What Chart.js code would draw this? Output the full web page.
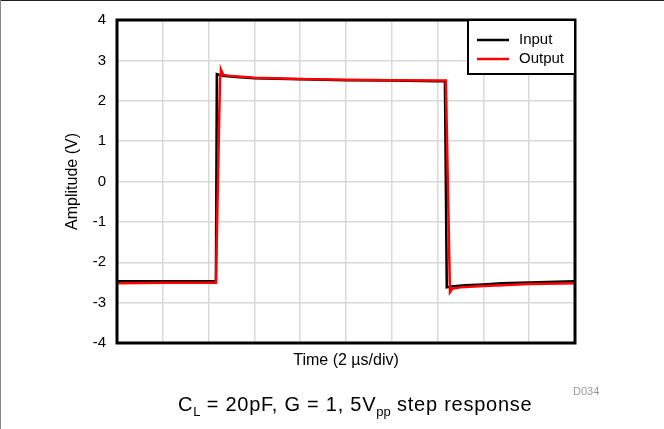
<!DOCTYPE html>
<html>
<head>
<meta charset="utf-8">
<script src="https://cdn.jsdelivr.net/npm/chart.js@4"></script>
<style>
  html, body { margin: 0; padding: 0; background: #fff; }
  #wrap { position: relative; width: 664px; height: 429px; overflow: hidden; font-family: "Liberation Sans", Arial, sans-serif; }
  #wrap canvas { position: absolute; left: 0; top: 0; }
  #topline { position: absolute; left: 0; top: 0; width: 664px; height: 1px; background: #222; }
  #leftline { position: absolute; left: 0; top: 0; width: 1px; height: 429px; background: #888; }
  #code { position: absolute; left: 573px; top: 385px; font-size: 11px; color: #9a9a9a; }
  #caption { position: absolute; left: 178px; top: 393px; font-size: 20px; color: #000; white-space: nowrap; letter-spacing: 0.75px; }
  #caption sub { font-size: 13px; vertical-align: -5px; line-height: 0; letter-spacing: 0; }
</style>
</head>
<body>
<div id="wrap">
  <canvas id="c" width="664" height="429"></canvas>
  <div id="topline"></div>
  <div id="leftline"></div>
  <div id="code">D034</div>
  <div id="caption">C<sub>L</sub> = 20pF, G = 1, 5V<sub>pp</sub> step response</div>
</div>
<script>
// Time in divisions (2 µs/div)
const inputTime  = [0, 1, 2, 2.16, 2.18, 2.3, 2.6, 3, 4, 5, 6, 7, 7.16, 7.2, 7.3, 7.6, 8, 8.4, 9, 10];
const inputVolts = [-2.47, -2.47, -2.47, -2.47, 2.66, 2.62, 2.59, 2.56, 2.53, 2.51, 2.50, 2.48, 2.48, -2.62, -2.60, -2.57, -2.55, -2.52, -2.50, -2.47];
const outputTime  = [0, 1, 2, 2.16, 2.25, 2.27, 2.32, 2.5, 3, 4, 5, 6, 7, 7.18, 7.27, 7.32, 7.5, 8, 8.4, 9, 10];
const outputVolts = [-2.52, -2.51, -2.51, -2.51, 2.62, 2.77, 2.64, 2.61, 2.57, 2.54, 2.52, 2.51, 2.50, 2.50, -2.74, -2.66, -2.62, -2.59, -2.57, -2.54, -2.52];
const seriesNames = ["Input", "Output"];
const seriesColors = ["#000000", "#ff0000"];
const yTicks = [-4, -3, -2, -1, 0, 1, 2, 3, 4];

const toPoints = (xs, ys) => xs.map((x, i) => ({ x: x, y: ys[i] }));

const frameAndLegend = {
  id: 'frameAndLegend',
  afterDraw(chart) {
    const ctx = chart.ctx;
    const a = chart.chartArea;
    ctx.save();
    ctx.strokeStyle = '#000';
    ctx.lineWidth = 3;
    ctx.strokeRect(a.left, a.top, a.right - a.left, a.bottom - a.top);
    // legend box
    const bx = a.right - 107, by = a.top, bw = 107, bh = 54;
    ctx.fillStyle = '#fff';
    ctx.fillRect(bx, by, bw, bh);
    ctx.lineWidth = 2;
    ctx.strokeRect(bx, by, bw, bh);
    ctx.font = '15px "Liberation Sans", Arial, sans-serif';
    ctx.textBaseline = 'middle';
    chart.data.datasets.forEach((ds, i) => {
      const ly = by + 20 + i * 19;
      ctx.strokeStyle = ds.borderColor;
      ctx.lineWidth = 2.5;
      ctx.beginPath();
      ctx.moveTo(bx + 9, ly);
      ctx.lineTo(bx + 41, ly);
      ctx.stroke();
      ctx.fillStyle = '#000';
      ctx.fillText(ds.label, bx + 51, ly);
    });
    ctx.restore();
  }
};

new Chart(document.getElementById('c'), {
  type: 'line',
  data: {
    datasets: [
      { label: seriesNames[0], data: toPoints(inputTime, inputVolts), borderColor: seriesColors[0], borderWidth: 2.5, pointRadius: 0, tension: 0, order: 2 },
      { label: seriesNames[1], data: toPoints(outputTime, outputVolts), borderColor: seriesColors[1], borderWidth: 2.5, pointRadius: 0, tension: 0, order: 1 }
    ]
  },
  options: {
    responsive: false,
    animation: false,
    layout: { padding: { top: 18, right: 89, left: 0, bottom: 0 } },
    plugins: { legend: { display: false }, tooltip: { enabled: false } },
    scales: {
      x: {
        type: 'linear', min: 0, max: 10,
        ticks: { display: false, stepSize: 1 },
        grid: { color: '#d9d9d9', lineWidth: 1.5, drawTicks: false },
        border: { display: false },
        title: { display: true, text: 'Time (2 µs/div)', color: '#000', font: { family: '"Liberation Sans", Arial, sans-serif', size: 16 }, padding: { top: 0, bottom: 58.4 } },
        afterFit(scale) { scale.height = 86; }
      },
      y: {
        type: 'linear', min: -4, max: 4,
        afterBuildTicks(scale) { scale.ticks = yTicks.map(v => ({ value: v })); },
        ticks: { color: '#000', padding: 11, font: { family: '"Liberation Sans", Arial, sans-serif', size: 15 } },
        grid: { color: '#d9d9d9', lineWidth: 1.5, drawTicks: false },
        border: { display: false },
        title: { display: true, text: 'Amplitude (V)', color: '#000', font: { family: '"Liberation Sans", Arial, sans-serif', size: 16 }, padding: { top: 63.4, bottom: 0 } },
        afterFit(scale) { scale.width = 117; }
      }
    }
  },
  plugins: [frameAndLegend]
});
</script>
</body>
</html>
